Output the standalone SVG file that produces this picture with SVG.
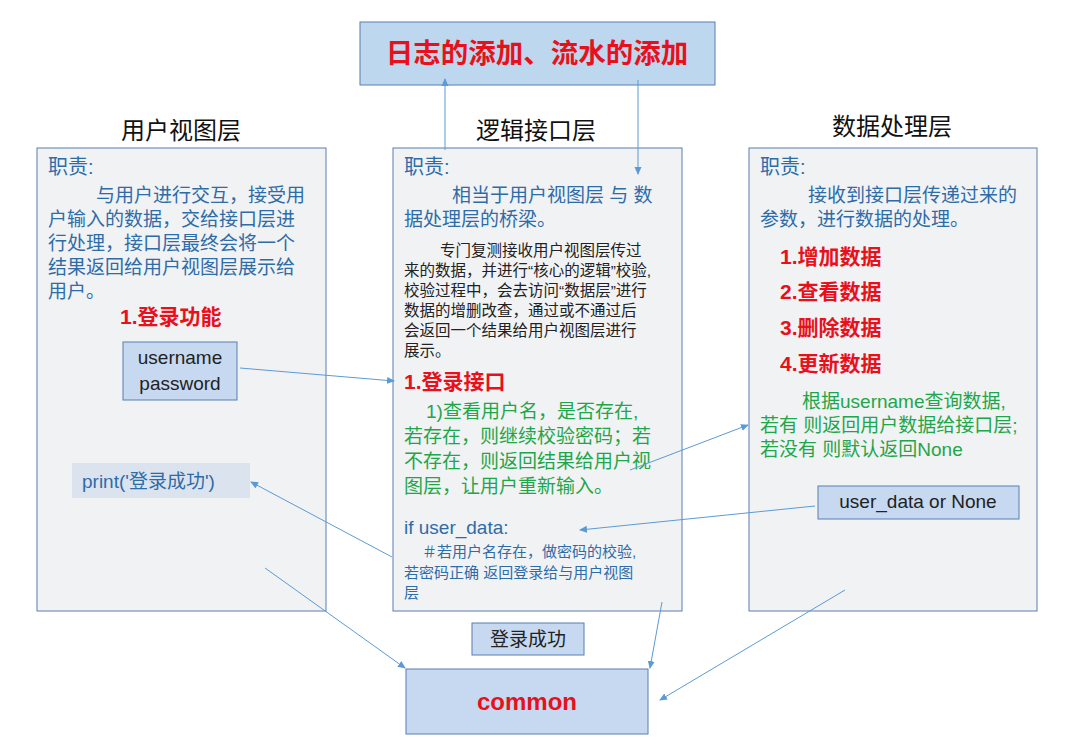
<svg xmlns="http://www.w3.org/2000/svg" width="1067" height="750" viewBox="0 0 1067 750">
<defs>
<marker id="ah" markerWidth="8" markerHeight="8" refX="7" refY="4" orient="auto" markerUnits="userSpaceOnUse"><path d="M0,0.5 L8,4 L0,7.5 Z" fill="#5b9bd5"/></marker>
<style>
text{font-family:"Liberation Sans","Noto Sans CJK SC",sans-serif}
.panel{fill:#f1f2f4;stroke:#5a7fb0;stroke-width:1}
.sb{fill:#c6d9f0;stroke:#5a7fb0;stroke-width:1}
.b{fill:#2e6ca8;font-size:19px}
.t{fill:#2e6ca8;font-size:20px}
.g{fill:#1ea64a;font-size:19px}
.k{fill:#222;font-size:15.5px}
.r{fill:#e8111b;font-size:21px;font-weight:bold}
.h{fill:#111;font-size:24px}
.c line{stroke:#5b9bd5;stroke-width:1;marker-end:url(#ah)}
</style>
</defs>
<rect width="1067" height="750" fill="#fff"/>
<g id="top"><rect x="360" y="22" width="355" height="63" fill="#bdd7ee" stroke="#5a7fb0"/><text x="537" y="63" text-anchor="middle" fill="#e8111b" font-size="27.5" font-weight="bold">日志的添加、流水的添加</text></g>
<g id="view">
<text x="181" y="139" text-anchor="middle" class="h">用户视图层</text>
<rect class="panel" x="37" y="148" width="289" height="463"/>
<text class="t" x="48" y="174">职责:</text>
<text class="b" x="96" y="202">与用户进行交互，接受用</text>
<text class="b" x="48" y="226">户输入的数据，交给接口层进</text>
<text class="b" x="48" y="250">行处理，接口层最终会将一个</text>
<text class="b" x="48" y="274">结果返回给用户视图层展示给</text>
<text class="b" x="48" y="298">用户。</text>
<text class="r" x="120" y="324">1.登录功能</text>
</g>
<g id="userpass"><rect class="sb" x="123" y="342" width="114" height="58"/><text x="180" y="364" text-anchor="middle" fill="#222" font-size="19">username</text><text x="180" y="390" text-anchor="middle" fill="#222" font-size="19">password</text></g>
<g id="print"><rect x="72" y="463" width="178" height="35" fill="#dbe3ee"/><text x="82" y="488" fill="#2e6ca8" font-size="19">print('登录成功')</text></g>
<g id="logic">
<text x="536" y="139" text-anchor="middle" class="h">逻辑接口层</text>
<rect class="panel" x="393" y="148" width="289" height="463"/>
<text class="t" x="404" y="174">职责:</text>
<text class="b" x="452" y="202">相当于用户视图层 与 数</text>
<text class="b" x="404" y="226">据处理层的桥梁。</text>
<text class="k" x="440" y="256">专门复测接收用户视图层传过</text>
<text class="k" x="404" y="276">来的数据，并进行“核心的逻辑”校验,</text>
<text class="k" x="404" y="296">校验过程中，会去访问“数据层”进行</text>
<text class="k" x="404" y="316">数据的增删改查，通过或不通过后</text>
<text class="k" x="404" y="336">会返回一个结果给用户视图层进行</text>
<text class="k" x="404" y="356">展示。</text>
<text class="r" x="404" y="389">1.登录接口</text>
<text class="g" x="426" y="418">1)查看用户名，是否存在,</text>
<text class="g" x="404" y="443">若存在，则继续校验密码；若</text>
<text class="g" x="404" y="468">不存在，则返回结果给用户视</text>
<text class="g" x="404" y="493">图层，让用户重新输入。</text>
<text x="404" y="534" fill="#2e6ca8" font-size="19">if user_data:</text>
<text x="422" y="557" fill="#2e6ca8" font-size="15">＃若用户名存在，做密码的校验,</text>
<text x="404" y="578" fill="#2e6ca8" font-size="15">若密码正确 返回登录给与用户视图</text>
<text x="404" y="598" fill="#2e6ca8" font-size="15">层</text>
</g>
<g id="data">
<text x="892" y="135" text-anchor="middle" class="h">数据处理层</text>
<rect class="panel" x="749" y="148" width="288" height="463"/>
<text class="t" x="760" y="174">职责:</text>
<text class="b" x="808" y="202">接收到接口层传递过来的</text>
<text class="b" x="760" y="226">参数，进行数据的处理。</text>
<text class="r" x="780" y="264">1.增加数据</text>
<text class="r" x="780" y="299">2.查看数据</text>
<text class="r" x="780" y="335">3.删除数据</text>
<text class="r" x="780" y="371">4.更新数据</text>
<text class="g" x="802" y="408">根据username查询数据,</text>
<text class="g" x="760" y="432">若有 则返回用户数据给接口层;</text>
<text class="g" x="760" y="456">若没有 则默认返回None</text>
</g>
<g id="udata"><rect class="sb" x="818" y="486" width="201" height="33"/><text x="918" y="508" text-anchor="middle" fill="#222" font-size="19">user_data or None</text></g>
<g id="ok"><rect class="sb" x="472" y="623" width="112" height="32"/><text x="528" y="646" text-anchor="middle" fill="#222" font-size="19">登录成功</text></g>
<g id="common"><rect class="sb" x="406" y="669" width="242" height="65"/><text x="527" y="710" text-anchor="middle" fill="#e8111b" font-size="24" font-weight="bold">common</text></g>
<g class="c" id="connectors">
<line x1="445" y1="150" x2="445" y2="79"/>
<line x1="638" y1="80" x2="638" y2="174"/>
<line x1="240" y1="368" x2="394" y2="381"/>
<line x1="630" y1="470" x2="748" y2="425"/>
<line x1="815" y1="506" x2="580" y2="530"/>
<line x1="392" y1="557" x2="251" y2="482"/>
<line x1="265" y1="568" x2="405" y2="668"/>
<line x1="662" y1="602" x2="650" y2="668"/>
<line x1="845" y1="590" x2="660" y2="700"/>
</g>
</svg>
